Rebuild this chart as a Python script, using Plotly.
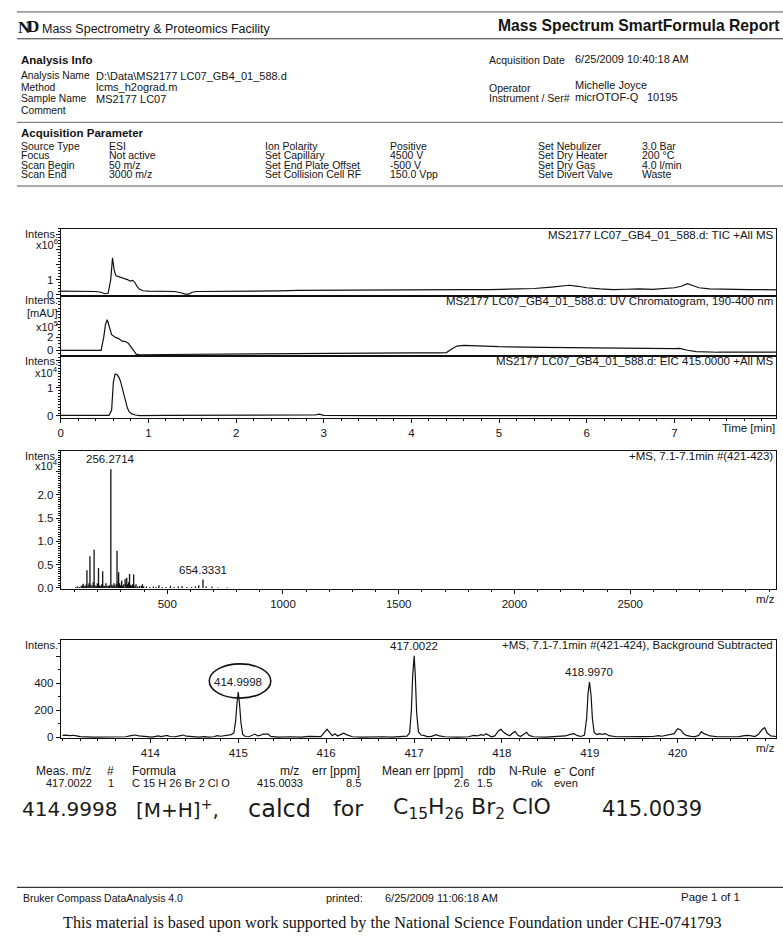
import plotly.graph_objects as go

# ---------------------------------------------------------------- data
# TIC +All MS (time in min, intensity in units of 1e6)
tic_time = [0.00, 0.10, 0.20, 0.30, 0.40, 0.46, 0.50, 0.54, 0.57, 0.59, 0.61, 0.63, 0.66, 0.70,
            0.73, 0.76, 0.79, 0.82, 0.84, 0.87, 0.90, 0.94, 1.00, 1.10, 1.20, 1.30, 1.38, 1.42,
            1.46, 1.50, 1.55, 1.70, 1.90, 2.10, 2.30, 2.50, 2.70, 2.90, 3.10, 3.40, 3.70, 4.00,
            4.30, 4.60, 4.90, 5.20, 5.40, 5.60, 5.70, 5.80, 5.90, 6.00, 6.15, 6.30, 6.45, 6.60,
            6.75, 6.90, 7.00, 7.08, 7.15, 7.20, 7.28, 7.40, 7.55, 7.70, 7.85, 8.00, 8.20]
tic_int = [0.22, 0.22, 0.21, 0.22, 0.20, 0.15, 0.05, 0.08, 1.00, 2.45, 1.60, 1.25, 1.20, 1.15,
           1.05, 1.00, 0.90, 0.95, 0.85, 0.55, 0.35, 0.25, 0.22, 0.22, 0.21, 0.20, 0.10, 0.02,
           0.03, 0.15, 0.20, 0.20, 0.21, 0.22, 0.23, 0.24, 0.27, 0.28, 0.30, 0.30, 0.31, 0.30,
           0.32, 0.33, 0.33, 0.35, 0.40, 0.50, 0.58, 0.62, 0.55, 0.45, 0.38, 0.33, 0.35, 0.38,
           0.34, 0.40, 0.45, 0.55, 0.72, 0.62, 0.45, 0.38, 0.35, 0.33, 0.32, 0.32, 0.31]

# UV chromatogram 190-400 nm (intensity in units of 1e5 mAU)
uv_time = [0.00, 0.20, 0.40, 0.46, 0.49, 0.51, 0.53, 0.555, 0.58, 0.62, 0.66, 0.70, 0.74, 0.77,
           0.80, 0.83, 0.86, 0.90, 1.20, 1.60, 2.00, 2.50, 3.00, 3.50, 4.00, 4.30, 4.40, 4.46,
           4.52, 4.60, 4.80, 5.00, 5.50, 6.00, 6.50, 6.90, 7.00, 7.06, 7.15, 7.25, 7.50, 8.20]
uv_int = [0.0, 0.0, 0.0, 0.0, 2.0, 4.0, 4.7, 3.6, 2.4, 2.0, 1.8, 1.4, 1.35, 1.1,
          0.6, 0.0, -0.6, -0.7, -0.65, -0.6, -0.6, -0.5, -0.45, -0.4, -0.4, -0.4, -0.35, 0.2,
          0.65, 0.75, 0.65, 0.55, 0.45, 0.35, 0.25, 0.2, 0.25, 0.3, 0.0, -0.2, -0.3, -0.3]

# EIC 415.0000 +All MS (intensity in units of 1e4)
eic_time = [0.00, 0.20, 0.40, 0.55, 0.58, 0.60, 0.62, 0.64, 0.66, 0.68, 0.70, 0.72, 0.74, 0.76,
            0.78, 0.81, 0.85, 0.90, 1.20, 1.80, 2.40, 2.90, 2.95, 3.00, 3.50, 4.50, 5.50, 6.50,
            7.50, 8.20]
eic_int = [0.02, 0.03, 0.02, 0.02, 0.20, 1.20, 1.50, 1.48, 1.40, 1.25, 1.00, 0.75, 0.45, 0.28,
           0.15, 0.07, 0.03, 0.01, 0.02, 0.02, 0.02, 0.03, 0.06, 0.02, 0.01, 0.01, 0.01, 0.01,
           0.01, 0.01]

# +MS full-scan spectrum, 7.1 min (m/z, intensity in units of 1e4)
ms_mz = [105, 112, 120, 128, 133, 137, 141, 146, 150, 153, 158, 162, 166, 170, 175, 180, 184,
         188, 193, 198, 203, 208, 213, 217, 221, 226, 230, 235, 240, 245, 250, 256.2714, 261,
         265, 270, 274, 279, 283, 287, 290, 294, 298, 303, 307, 312, 318, 322, 325, 329, 333,
         337, 341, 346, 350, 355, 360, 365, 372, 380, 388, 393, 398, 410, 425, 440, 452, 464,
         478, 495, 514, 530, 548, 564, 585, 605, 622, 636, 654.3331, 668, 693, 720, 760]
ms_int = [0.02, 0.03, 0.02, 0.04, 0.06, 0.09, 0.05, 0.03, 0.08, 0.38, 0.06, 0.10, 0.68, 0.07,
          0.05, 0.12, 0.82, 0.06, 0.05, 0.10, 0.43, 0.06, 0.04, 0.08, 0.36, 0.05, 0.04, 0.10,
          0.05, 0.04, 0.06, 2.55, 0.07, 0.05, 0.10, 0.05, 0.08, 0.80, 0.12, 0.34, 0.10, 0.06,
          0.16, 0.05, 0.08, 0.19, 0.09, 0.22, 0.08, 0.12, 0.30, 0.07, 0.05, 0.08, 0.29, 0.05,
          0.08, 0.03, 0.04, 0.05, 0.08, 0.03, 0.03, 0.02, 0.03, 0.02, 0.06, 0.02, 0.02, 0.05,
          0.02, 0.03, 0.04, 0.02, 0.02, 0.03, 0.06, 0.18, 0.03, 0.03, 0.01, 0.01]
ms_labels = [256.2714, 654.3331]

# +MS background-subtracted profile, m/z 413-421 (intensity, counts)
iso_mz = [413.00, 413.04, 413.08, 413.12, 413.16, 413.20, 413.35, 413.55, 413.72, 413.78, 413.82,
          413.87, 413.94, 414.02, 414.06, 414.09, 414.12, 414.16, 414.19, 414.22, 414.28, 414.33,
          414.37, 414.41, 414.47, 414.55, 414.62, 414.66, 414.72, 414.76, 414.80, 414.85, 414.89,
          414.92, 414.95, 414.97, 414.985, 414.9998, 415.015, 415.03, 415.05, 415.08, 415.12,
          415.16, 415.19, 415.22, 415.25, 415.28, 415.31, 415.34, 415.37, 415.45, 415.60, 415.72,
          415.80, 415.85, 415.90, 415.94, 415.98, 416.01, 416.04, 416.07, 416.10, 416.13, 416.17,
          416.20, 416.23, 416.26, 416.30, 416.40, 416.55, 416.65, 416.75, 416.85, 416.92, 416.95,
          416.97, 416.985, 417.0022, 417.015, 417.03, 417.05, 417.08, 417.11, 417.15, 417.20,
          417.25, 417.29, 417.35, 417.50, 417.62, 417.68, 417.72, 417.76, 417.79, 417.82, 417.85,
          417.88, 417.92, 417.96, 417.99, 418.02, 418.06, 418.09, 418.12, 418.15, 418.18, 418.21,
          418.25, 418.28, 418.31, 418.36, 418.50, 418.62, 418.72, 418.78, 418.82, 418.86, 418.90,
          418.94, 418.965, 418.98, 418.9970, 419.015, 419.03, 419.05, 419.08, 419.11, 419.14,
          419.18, 419.22, 419.30, 419.45, 419.60, 419.72, 419.78, 419.82, 419.87, 419.92, 419.96,
          420.00, 420.03, 420.07, 420.10, 420.15, 420.20, 420.24, 420.27, 420.30, 420.33, 420.37,
          420.45, 420.60, 420.70, 420.76, 420.80, 420.84, 420.88, 420.92, 420.96, 420.99, 421.02,
          421.06, 421.12]
iso_int = [12, 14, 10, 13, 8, 3, 0, 0, 2, 10, 15,
           8, 2, 0, 5, 8, 3, 6, 12, 4, 2, 8,
           15, 6, 2, 0, 3, 0, 2, 10, 6, 12, 20,
           18, 30, 120, 250, 335, 240, 110, 20, 4, 2,
           15, 22, 8, 12, 22, 20, 22, 5, 0, 2, 0,
           5, 3, 6, 3, 35, 58, 35, 10, 25, 8, 20,
           28, 18, 12, 2, 0, 3, 2, 0, 4, 6, 30,
           200, 460, 605, 450, 180, 40, 15, 12, 3, 5,
           18, 8, 2, 0, 2, 12, 8, 18, 12, 24, 10,
           2, 8, 45, 58, 35, 18, 10, 28, 42, 15, 4,
           20, 35, 12, 2, 0, 5, 8, 20, 25, 10, 4,
           15, 140, 320, 410, 310, 140, 35, 18, 25, 20,
           26, 10, 2, 0, 3, 4, 10, 6, 12, 15, 25,
           62, 55, 25, 12, 5, 3, 12, 40, 25, 18, 8,
           2, 0, 3, 10, 12, 8, 3, 20, 55, 70, 30,
           8, 4]
iso_labels = [414.9998, 417.0022, 418.9970]

# ---------------------------------------------------------------- page text
header_left = ["Analysis Name", "Method", "Sample Name", "Comment"]
header_left_val = ["D:\\Data\\MS2177 LC07_GB4_01_588.d", "lcms_h2ograd.m", "MS2177 LC07", ""]
param_cols = [
    ["Source Type", "Focus", "Scan Begin", "Scan End"],
    ["ESI", "Not active", "50 m/z", "3000 m/z"],
    ["Ion Polarity", "Set Capillary", "Set End Plate Offset", "Set Collision Cell RF"],
    ["Positive", "4500 V", "-500 V", "150.0 Vpp"],
    ["Set Nebulizer", "Set Dry Heater", "Set Dry Gas", "Set Divert Valve"],
    ["3.0 Bar", "200 °C", "4.0 l/min", "Waste"],
]
formula_head = ["Meas. m/z", "#", "Formula", "m/z", "err [ppm]", "Mean err [ppm]", "rdb",
                "N-Rule", "e<sup>\u2212</sup> Conf"]
formula_row = ["417.0022", "1", "C 15 H 26 Br 2 Cl O", "415.0033", "8.5", "2.6", "1.5", "ok", "even"]
note_parts = ["414.9998", "[M+H]<sup>+</sup>,", "calcd", "for",
              "C<sub>15</sub>H<sub>26</sub> Br<sub>2</sub> ClO", "415.0039"]

# ---------------------------------------------------------------- layout helpers
W, H = 783, 952
SANS = "Liberation Sans, Arial, sans-serif"
SERIF = "Liberation Serif, serif"
HAND = "DejaVu Sans, sans-serif"
INK = "#141414"


def fx(x):
    return x / W


def fy(y):
    return 1 - y / H


notes = []
shapes = []


def text(x, y, s, size=11, anchor="left", bold=False, family=SANS, color=INK):
    notes.append(dict(x=fx(x), y=fy(y), xref="paper", yref="paper",
                      text=f"<b>{s}</b>" if bold else s, showarrow=False,
                      xanchor=anchor, yanchor="middle", borderpad=0,
                      font=dict(size=size, family=family, color=color)))


def hline(y, x0=14, x1=783, width=1.2, color="#222"):
    shapes.append(dict(type="line", xref="paper", yref="paper", x0=fx(x0), x1=fx(x1),
                       y0=fy(y), y1=fy(y), line=dict(color=color, width=width)))


# header
hline(12, 14, 783, 1.0, "#555")
text(14, 28, "N", 17, bold=True, family=SERIF)
text(23, 27, "D", 17, bold=True, family=SERIF)
text(38, 29, "Mass Spectrometry &amp; Proteomics Facility", 12.5)
text(781, 26, "Mass Spectrum SmartFormula Report", 15.7, anchor="right", bold=True)
hline(39, 14, 783, 1.0, "#333")

text(17, 60, "Analysis Info", 11.5, bold=True)
for i, (lab, val) in enumerate(zip(header_left, header_left_val)):
    y = 76 + i * 11.6
    text(17, y, lab, 10.3)
    text(92, y, val, 11)
text(487, 60, "Acquisition Date", 10.5)
text(573, 59, "6/25/2009 10:40:18 AM", 11)
text(487, 88, "Operator", 10.5)
text(573, 85, "Michelle Joyce", 11)
text(487, 99, "Instrument / Ser#", 10.5)
text(573, 98, "micrOTOF-Q", 11)
text(645, 98, "10195", 11)
hline(123, 14, 783, 1.0, "#666")

text(17, 134, "Acquisition Parameter", 11.5, bold=True)
col_x = [17, 105, 262, 387, 536, 640]
for cx, col in zip(col_x, param_cols):
    for j, s in enumerate(col):
        text(cx, 147 + j * 9.2, s, 10.5)
hline(187, 14, 783, 1.0, "#555")

# formula table
head_x = [(32, "left"), (103, "left"), (128, "left"), (298, "right"), (309, "left"),
          (379, "left"), (476, "left"), (507, "left"), (552, "left")]
row_x = [(90, "right"), (104, "left"), (128, "left"), (302, "right"), (360, "right"),
         (469, "right"), (492, "right"), (543, "right"), (552, "left")]
for (x, a), s in zip(head_x, formula_head):
    text(x, 775, s, 12, anchor=a)
for (x, a), s in zip(row_x, formula_row):
    text(x, 787, s, 11, anchor=a)

# handwritten note
for x, s, sz in zip([18, 133, 245, 330, 390, 600], note_parts, [20, 20, 24, 22, 22, 21]):
    text(x, 813, s, sz, family=HAND, color="#1a1a1a")

# footer
hline(892, 14, 783, 1.2, "#333")
text(19, 903, "Bruker Compass DataAnalysis 4.0", 10.5)
text(323, 903, "printed:", 11)
text(382, 903, "6/25/2009 11:06:18 AM", 11)
text(680, 902, "Page 1 of 1", 11.5)
text(391, 928, "This material is based upon work supported by the National Science Foundation "
     "under CHE-0741793", 16.2, anchor="center", family=SERIF)

# ---------------------------------------------------------------- plots
X0, X1 = 58, 776
panels = {
    # name: (top px, bottom px)
    "tic": (230, 298), "uv": (298, 358), "eic": (358, 420),
    "ms": (453, 592), "iso": (643, 742),
}

fig = go.Figure()
line_style = dict(color="#111", width=1.2)

fig.add_trace(go.Scatter(x=tic_time, y=tic_int, mode="lines", line=line_style,
                         xaxis="x", yaxis="y", showlegend=False))
fig.add_trace(go.Scatter(x=uv_time, y=uv_int, mode="lines", line=line_style,
                         xaxis="x2", yaxis="y2", showlegend=False))
fig.add_trace(go.Scatter(x=eic_time, y=eic_int, mode="lines", line=line_style,
                         xaxis="x3", yaxis="y3", showlegend=False))

# full-scan spectrum as sticks
stick_x, stick_y = [], []
for m, v in zip(ms_mz, ms_int):
    stick_x += [m, m, None]
    stick_y += [0, v, None]
fig.add_trace(go.Scatter(x=stick_x, y=stick_y, mode="lines", line=dict(color="#111", width=1.3),
                         xaxis="x4", yaxis="y4", showlegend=False))
fig.add_trace(go.Scatter(x=iso_mz, y=iso_int, mode="lines", line=line_style,
                         xaxis="x5", yaxis="y5", showlegend=False))

axis_common = dict(showline=True, mirror=True, linecolor="#111", linewidth=1.2,
                   showgrid=False, zeroline=False,
                   tickfont=dict(family=SANS, size=11.5, color=INK), ticklen=4,
                   tickcolor="#111", tickwidth=1)


def minor(step, start=0):
    return dict(tickmode="linear", tick0=start, dtick=step, ticks="outside", ticklen=2,
                tickcolor="#111")


def xdom():
    return [fx(X0), fx(X1)]


def ydom(name):
    top, bot = panels[name]
    return [fy(bot), fy(top)]


chrom_range = [0, 8.16]
layout_axes = dict(
    xaxis=dict(domain=xdom(), range=chrom_range, anchor="y", showticklabels=False, ticks="",
               **axis_common),
    xaxis2=dict(domain=xdom(), range=chrom_range, anchor="y2", showticklabels=False, ticks="",
                **axis_common),
    xaxis3=dict(domain=xdom(), range=chrom_range, anchor="y3", ticks="outside",
                tickvals=[0, 1, 2, 3, 4, 5, 6, 7], minor=minor(0.2), **axis_common),
    yaxis=dict(domain=ydom("tic"), range=[-0.13, 4.40], anchor="x", ticks="outside",
               tickvals=[0, 1, 2, 3, 4], ticktext=["0", "1", "", "", ""],
               minor=minor(0.2), **axis_common),
    yaxis2=dict(domain=ydom("uv"), range=[-0.9, 8.3], anchor="x2", ticks="outside",
                tickvals=[0, 2, 4, 6, 8], ticktext=["0", "2", "", "", ""],
                minor=minor(0.5), **axis_common),
    yaxis3=dict(domain=ydom("eic"), range=[-0.07, 2.14], anchor="x3", ticks="outside",
                tickvals=[0, 1, 2], ticktext=["0", "1", ""],
                minor=minor(0.1), **axis_common),
    xaxis4=dict(domain=xdom(), range=[40, 3130], anchor="y4", ticks="outside",
                tickvals=[500, 1000, 1500, 2000, 2500], minor=minor(100), **axis_common),
    yaxis4=dict(domain=ydom("ms"), range=[-0.02, 2.95], anchor="x4", ticks="outside",
                tickvals=[0, 0.5, 1.0, 1.5, 2.0, 2.5],
                ticktext=["0.0", "0.5", "1.0", "1.5", "2.0", ""],
                minor=minor(0.05), **axis_common),
    xaxis5=dict(domain=xdom(), range=[412.98, 421.12], anchor="y5", ticks="outside",
                tickvals=[414, 415, 416, 417, 418, 419, 420], minor=minor(0.2, 413),
                **axis_common),
    yaxis5=dict(domain=ydom("iso"), range=[-8, 726], anchor="x5", ticks="outside",
                tickvals=[0, 200, 400, 600], ticktext=["0", "200", "400", ""],
                minor=minor(100), **axis_common),
)

# panel captions and axis titles
cap = 11.5
text(X1 - 2, 236, "MS2177 LC07_GB4_01_588.d: TIC +All MS", cap, anchor="right")
text(X1 - 2, 303, "MS2177 LC07_GB4_01_588.d: UV Chromatogram, 190-400 nm", cap, anchor="right")
text(X1 - 2, 363, "MS2177 LC07_GB4_01_588.d: EIC 415.0000 +All MS", cap, anchor="right")
text(X1 - 2, 458, "+MS, 7.1-7.1min #(421-423)", cap, anchor="right")
text(X1 - 2, 648, "+MS, 7.1-7.1min #(421-424), Background Subtracted", cap, anchor="right")
text(X1, 430, "Time [min]", 11.5, anchor="right")
text(X1, 602, "m/z", 11.5, anchor="right")
text(X1, 752, "m/z", 11.5, anchor="right")

for y, s in [(235, "Intens."), (245, "x10<sup>6</sup>"),
             (302, "Intens."), (315, "[mAU]"), (328, "x10<sup>5</sup>"),
             (363, "Intens."), (374, "x10<sup>4</sup>"),
             (458, "Intens."), (467, "x10<sup>4</sup>"),
             (648, "Intens.")]:
    text(X0 - 2, y, s, 11, anchor="right")

# peak labels placed at the labelled m/z
for m in ms_labels:
    v = ms_int[ms_mz.index(m)]
    notes.append(dict(x=m, y=v, xref="x4", yref="y4", text=f"{m:.4f}", showarrow=False,
                      xanchor="center", yanchor="bottom", yshift=2,
                      font=dict(size=11.5, family=SANS, color=INK)))
for m in iso_labels:
    v = iso_int[iso_mz.index(m)]
    notes.append(dict(x=m, y=v, xref="x5", yref="y5", text=f"{m:.4f}", showarrow=False,
                      xanchor="center", yanchor="bottom", yshift=2,
                      font=dict(size=11.5, family=SANS, color=INK)))

# hand-drawn ring around the [M+H]+ label
shapes.append(dict(type="circle", xref="x5", yref="y5", x0=414.67, x1=415.37, y0=290, y1=545,
                   line=dict(color="#111", width=1.6)))

fig.update_layout(
    width=W, height=H, autosize=False,
    margin=dict(l=0, r=0, t=0, b=0),
    paper_bgcolor="white", plot_bgcolor="white",
    annotations=notes, shapes=shapes,
    **layout_axes,
)

fig.write_html("out.html")
